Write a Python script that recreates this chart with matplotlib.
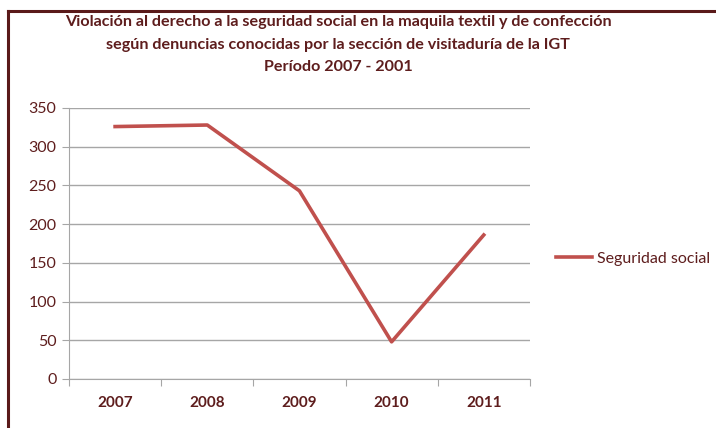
import matplotlib.pyplot as plt
from matplotlib.lines import Line2D

years = ['2007', '2008', '2009', '2010', '2011']
seguridad = [326, 328, 243, 48, 186]

txt_color = '#5e1d1d'
line_color = '#c0504d'
grid_color = '#a6a6a6'

plt.rcParams['font.family'] = ['Lato', 'DejaVu Sans']

fig = plt.figure(figsize=(7.16, 4.28), dpi=100)
ax = fig.add_axes([0.0964, 0.1145, 0.6436, 0.6332])

x = list(range(len(years)))
ax.plot(x, seguridad, color=line_color, lw=2.6, label='Seguridad social')

ax.set_xlim(-0.5, len(years) - 0.5)
ax.set_ylim(0, 350)
ax.set_yticks(range(0, 351, 50))
ax.yaxis.grid(True, color=grid_color, lw=1)
ax.set_axisbelow(True)

ax.set_xticks([i - 0.5 for i in range(len(years) + 1)])
ax.set_xticklabels([])
ax.set_xticks(x, minor=True)
ax.set_xticklabels(years, minor=True, fontweight='bold')
ax.tick_params(axis='x', which='major', length=5, color=grid_color, direction='out')
ax.tick_params(axis='x', which='minor', length=0, pad=12, labelsize=11, labelcolor=txt_color)
ax.tick_params(axis='y', length=5, color=grid_color, labelsize=11.5, labelcolor=txt_color, pad=4)

for s in ['top', 'right']:
    ax.spines[s].set_visible(False)
for s in ['left', 'bottom']:
    ax.spines[s].set_color(grid_color)

ax.legend(loc='center left', bbox_to_anchor=(1.025, 0.443), frameon=False,
          handlelength=2.3, handletextpad=0.3, prop={'size': 11.5},
          labelcolor=txt_color)

fig.text(0.472, 0.948, 'Violación al derecho a la seguridad social en la maquila textil y de confección',
         ha='center', va='center', fontsize=11.6, fontweight='bold', color=txt_color)
fig.text(0.472, 0.895, 'según denuncias conocidas por la sección de visitaduría de la IGT',
         ha='center', va='center', fontsize=11.6, fontweight='bold', color=txt_color)
fig.text(0.472, 0.843, 'Período 2007 - 2001',
         ha='center', va='center', fontsize=11.6, fontweight='bold', color=txt_color)

# frame lines at top and left
fig.add_artist(Line2D([0.0115, 1.0], [0.974, 0.974], transform=fig.transFigure, color='#5a1a1a', lw=2.2))
fig.add_artist(Line2D([0.0115, 0.0115], [0.0, 0.974], transform=fig.transFigure, color='#5a1a1a', lw=2.2))

fig.savefig('out.png', dpi=100)
